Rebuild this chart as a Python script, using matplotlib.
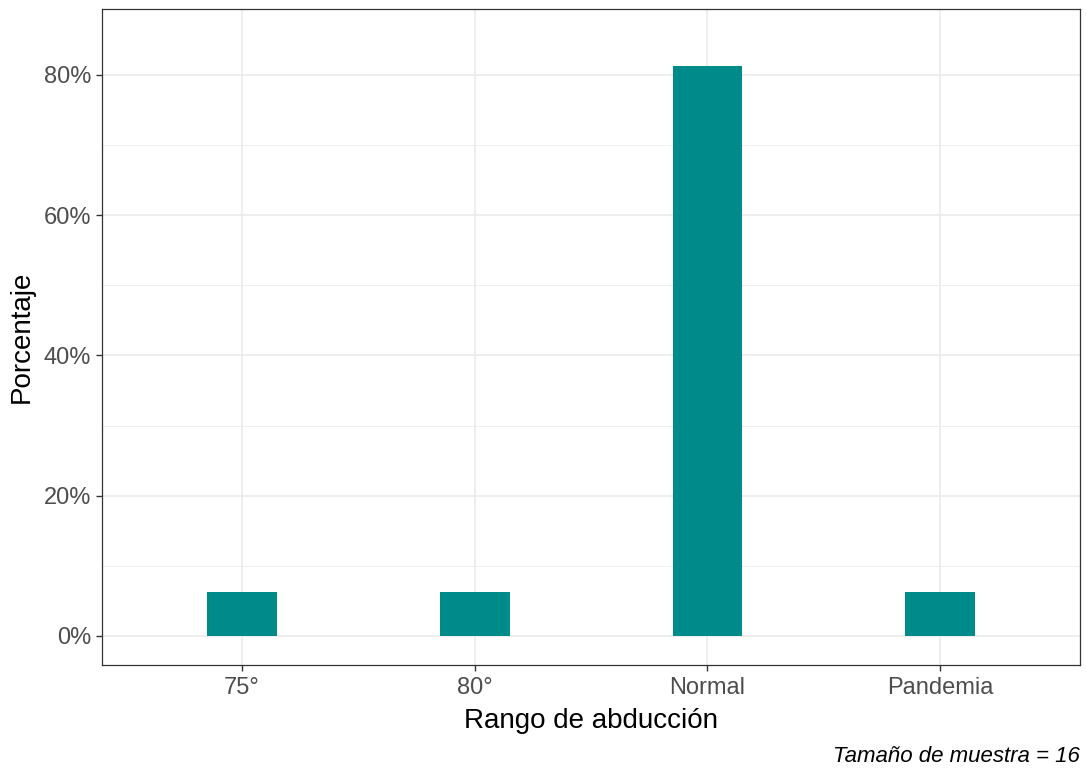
import matplotlib.pyplot as plt
from matplotlib.ticker import FuncFormatter, MultipleLocator

# Datos
categorias = ['75°', '80°', 'Normal', 'Pandemia']
conteos = [1, 1, 13, 1]
n_total = 16
porcentajes = [c / n_total * 100 for c in conteos]

plt.rcParams['font.family'] = ['Liberation Sans', 'DejaVu Sans']

fig = plt.figure(figsize=(10.86, 7.71), dpi=100)
ax = fig.add_axes([102 / 1086, 1 - 665 / 771, (1080 - 102) / 1086, (665 - 9) / 771])

x = list(range(1, len(categorias) + 1))
ax.bar(x, porcentajes, width=0.3, color='#008B8B', zorder=3)

ax.set_xlim(0.4, 4.6)
ax.set_ylim(-4.14, 89.4)
ax.set_xticks(x)
ax.set_xticklabels(categorias)
ax.yaxis.set_major_locator(MultipleLocator(20))
ax.yaxis.set_minor_locator(MultipleLocator(10))
ax.yaxis.set_major_formatter(FuncFormatter(lambda v, p: f'{v:.0f}%'))

# Rejilla estilo theme_bw
ax.grid(True, which='major', color='#EBEBEB', linewidth=1.2, zorder=0)
ax.grid(True, which='minor', axis='y', color='#EBEBEB', linewidth=0.6, zorder=0)
ax.tick_params(which='minor', length=0)
ax.tick_params(which='major', length=4, width=1, color='#333333',
               labelcolor='#4D4D4D', labelsize=17, pad=4)
ax.tick_params(axis='x', pad=5)
for s in ax.spines.values():
    s.set_color('#333333')
    s.set_linewidth(0.9)

ax.set_xlabel('Rango de abducción', fontsize=20, labelpad=6)
ax.set_ylabel('Porcentaje', fontsize=20, labelpad=6)

fig.text(1080 / 1086, 1 - 757 / 771, 'Tamaño de muestra = 16', ha='right', va='center',
         fontsize=16, style='italic')

plt.savefig('out.png', dpi=100)
